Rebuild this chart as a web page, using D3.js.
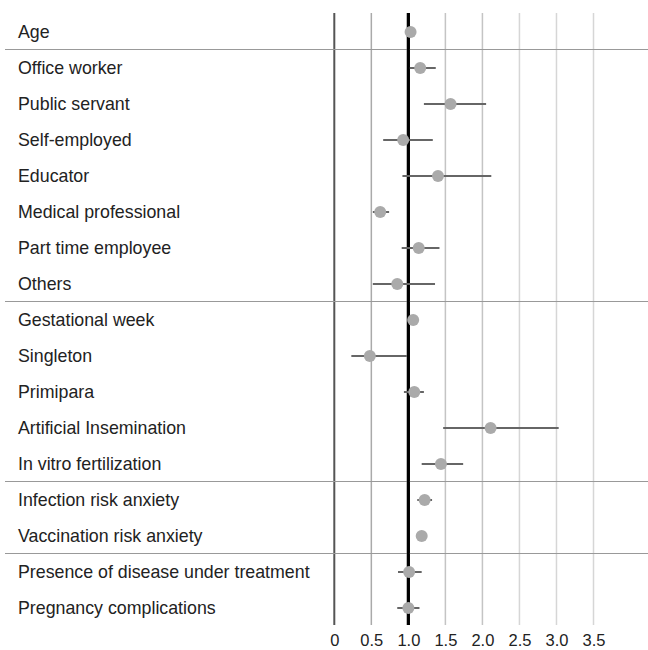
<!DOCTYPE html>
<html>
<head>
<meta charset="utf-8">
<script src="https://cdn.jsdelivr.net/npm/d3@7"></script>
<style>
  body { margin: 0; background: #fff; }
  text { font-family: "Liberation Sans", Arial, sans-serif; }
</style>
</head>
<body>
<svg id="chart" width="648" height="650"></svg>
<script>
// variables, top to bottom
var labels = [
  "Age", "Office worker", "Public servant", "Self-employed", "Educator",
  "Medical professional", "Part time employee", "Others", "Gestational week",
  "Singleton", "Primipara", "Artificial Insemination", "In vitro fertilization",
  "Infection risk anxiety", "Vaccination risk anxiety",
  "Presence of disease under treatment", "Pregnancy complications"
];
var estimates = [1.03, 1.16, 1.57, 0.93, 1.40, 0.62, 1.14, 0.85, 1.065,
  0.48, 1.08, 2.11, 1.44, 1.22, 1.18, 1.01, 1.00];
var lower = [1.01, 1.02, 1.21, 0.66, 0.92, 0.52, 0.91, 0.52, 1.05,
  0.23, 0.94, 1.47, 1.18, 1.12, 1.15, 0.86, 0.85];
var upper = [1.05, 1.37, 2.05, 1.33, 2.12, 0.74, 1.42, 1.36, 1.08,
  0.98, 1.21, 3.03, 1.74, 1.32, 1.21, 1.18, 1.15];
// group separators drawn after these row indexes
var groupEnds = [0, 7, 12, 14];
var ticks = [0, 0.5, 1.0, 1.5, 2.0, 2.5, 3.0, 3.5];
var tickLabels = ["0", "0.5", "1.0", "1.5", "2.0", "2.5", "3.0", "3.5"];

var svg = d3.select("#chart");
var topY = 14, rowH = 36;

var x = d3.scaleLinear().domain([0, 3.5]).range([334.3, 593.5]);
var y = d3.scaleBand().domain(d3.range(labels.length))
  .range([topY, topY + rowH * labels.length]);

var gridColor = function(t) {
  if (t === 0) return "#555";
  if (t === 1) return "#000";
  if (t === 0.5) return "#aaa";
  if (t <= 2.0) return "#c4c4c4";
  return "#d6d6d6";
};
var gridWidth = function(t) {
  if (t === 1) return 3;
  if (t === 0) return 2;
  return 1.5;
};

// vertical grid lines
svg.append("g").attr("class", "grid")
  .selectAll("line").data(ticks).join("line")
  .attr("x1", function(d) { return x(d); })
  .attr("x2", function(d) { return x(d); })
  .attr("y1", 13).attr("y2", 625)
  .attr("stroke", gridColor)
  .attr("stroke-width", gridWidth);

// group separators
svg.append("g").attr("class", "seps")
  .selectAll("line").data(groupEnds).join("line")
  .attr("x1", 5).attr("x2", 648)
  .attr("y1", function(d) { return y(d) + rowH - 0.5; })
  .attr("y2", function(d) { return y(d) + rowH - 0.5; })
  .attr("stroke", "#999").attr("stroke-width", 1);

// redraw the reference line over the separators
svg.append("line")
  .attr("x1", x(1)).attr("x2", x(1)).attr("y1", 13).attr("y2", 625)
  .attr("stroke", "#000").attr("stroke-width", 3);

var rows = svg.append("g").attr("class", "rows")
  .selectAll("g").data(labels).join("g")
  .attr("transform", function(d, i) { return "translate(0," + (y(i) + rowH / 2) + ")"; });

rows.append("text")
  .attr("x", 18).attr("dy", "0.35em")
  .attr("font-size", 17.8).attr("fill", "#222")
  .text(function(d) { return d; });

rows.append("line")
  .attr("x1", function(d, i) { return x(lower[i]); })
  .attr("x2", function(d, i) { return x(upper[i]); })
  .attr("stroke", "#666").attr("stroke-width", 2);

rows.append("circle")
  .attr("cx", function(d, i) { return x(estimates[i]); })
  .attr("r", 6)
  .attr("fill", "#aaa");

// axis labels
var axis = d3.axisBottom(x).tickValues(ticks)
  .tickFormat(function(d, i) { return tickLabels[i]; })
  .tickSize(0).tickPadding(0);
var ax = svg.append("g").attr("transform", "translate(0,634)").call(axis);
ax.select(".domain").remove();
ax.selectAll("text")
  .attr("font-size", 16.5).attr("fill", "#222")
  .attr("font-family", "Liberation Sans, Arial, sans-serif");
</script>
</body>
</html>
